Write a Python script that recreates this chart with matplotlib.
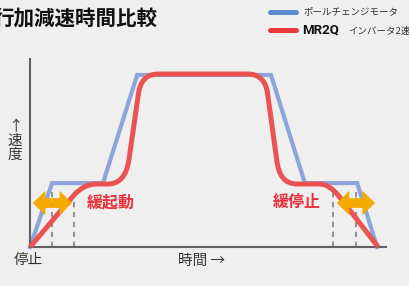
import numpy as np
import matplotlib.pyplot as plt
from matplotlib.path import Path
import matplotlib.patches as mpatches

plt.rcParams['font.family'] = ['Noto Sans CJK JP', 'DejaVu Sans']

# ポールチェンジモータ (折れ線)
blue_x = [0, 6.2, 20.5, 30.1, 67.7, 77.2, 91.9, 97.5]
blue_y = [0, 34, 34, 91.5, 91.5, 34, 34, 0]

# MR2Q インバータ2速 (M=move, L=line, C=quadratic curve points)
red_x = [0, 12.4, 15.2, 18.5, 21.9, 26.8, 27.8, 30.5, 31.3, 36.0,
         61.2, 65.9, 66.7, 69.3, 70.0, 75.0, 81.5, 84.0, 86.8, 97.8]
red_y = [0, 27.7, 33.5, 33.5, 33.5, 33.5, 46.5, 82, 92, 92,
         92, 92, 82, 46.5, 33.5, 33.5, 33.5, 33.5, 27, 0]
red_kind = ['M', 'L', 'C', 'C', 'L', 'C', 'C', 'L', 'C', 'C',
            'L', 'C', 'C', 'L', 'C', 'C', 'L', 'C', 'C', 'L']

dash_x = [6.2, 12.4, 85.1, 91.6]
dash_top = 30
arrow_spans = [(0.8, 11.8), (86.2, 96.9)]
arrow_y = 23.4

bg = '#efefef'
c_blue = '#8ca6dc'
c_red = '#eb5252'
c_orange = '#f5aa00'

fig = plt.figure(figsize=(4.1, 2.86), dpi=100, facecolor=bg)
ax = fig.add_axes([30/410, 39/286, 356/410, 188/286])
ax.set_facecolor(bg)
ax.set_xlim(0, 100)
ax.set_ylim(0, 100)
ax.set_xticks([])
ax.set_yticks([])
for s in ['top', 'right']:
    ax.spines[s].set_visible(False)
for s in ['left', 'bottom']:
    ax.spines[s].set_color('#606060')
    ax.spines[s].set_linewidth(1.5)

# dashed guide lines
for x in dash_x:
    ax.plot([x, x], [0, dash_top], color='#777777', lw=1.1, ls=(0, (3.5, 3)), zorder=1)

ax.plot(blue_x, blue_y, color=c_blue, lw=3.0, solid_joinstyle='miter', zorder=2, clip_on=False)

codes_map = {'M': Path.MOVETO, 'L': Path.LINETO, 'C': Path.CURVE3}
path = Path(np.column_stack([red_x, red_y]), [codes_map[k] for k in red_kind])
ax.add_patch(mpatches.PathPatch(path, facecolor='none', edgecolor=c_red, lw=3.6,
                                joinstyle='round', capstyle='butt', zorder=3, clip_on=False))

# double arrows
for x0, x1 in arrow_spans:
    xc = (x0 + x1) / 2
    for xe in (x0, x1):
        ax.arrow(xc, arrow_y, xe - xc, 0, width=5.2, head_width=13, head_length=3.5,
                 length_includes_head=True, color=c_orange, lw=0, zorder=4)

ax.text(16.0, 24.0, '緩起動', color='#e8323c', fontsize=11.5, fontweight='bold', va='center', ha='left')
ax.text(68.3, 24.0, '緩停止', color='#e8323c', fontsize=11.5, fontweight='bold', va='center', ha='left')

fig.text(14/410, 1 - 260/286, '停止', fontsize=10.5, color='#333333', va='center', ha='left')
fig.text(178/410, 1 - 261/286, '時間 →', fontsize=10.5, color='#333333', va='center', ha='left')
fig.text(15/410, 1 - 141/286, '↑\n速\n度', fontsize=10.5, color='#333333', va='center', ha='center',
         linespacing=1.0)

fig.text(158/410, 1 - 18/286, '行加減速時間比較', fontsize=14.8, fontweight='bold', color='#111111',
         va='center', ha='right')

# legend
fig.add_artist(plt.Line2D([270/410, 296/410], [1 - 12/286, 1 - 12/286], color='#5b8bd0', lw=3.6,
                          solid_capstyle='round', transform=fig.transFigure))
fig.add_artist(plt.Line2D([270/410, 296/410], [1 - 30/286, 1 - 30/286], color='#e8383d', lw=3.6,
                          solid_capstyle='round', transform=fig.transFigure))
fig.text(303/410, 1 - 12/286, 'ポールチェンジモータ', fontsize=6.8, color='#333333', va='center', ha='left')
fig.text(302/410, 1 - 30/286, 'MR2Q', fontsize=9.5, fontweight='bold', color='#111111', va='center', ha='left',
         family=['Roboto', 'DejaVu Sans'])
fig.text(348/410, 1 - 31/286, 'インバータ2速', fontsize=6.8, color='#333333', va='center', ha='left')

fig.savefig('out.png', dpi=100, facecolor=bg)
